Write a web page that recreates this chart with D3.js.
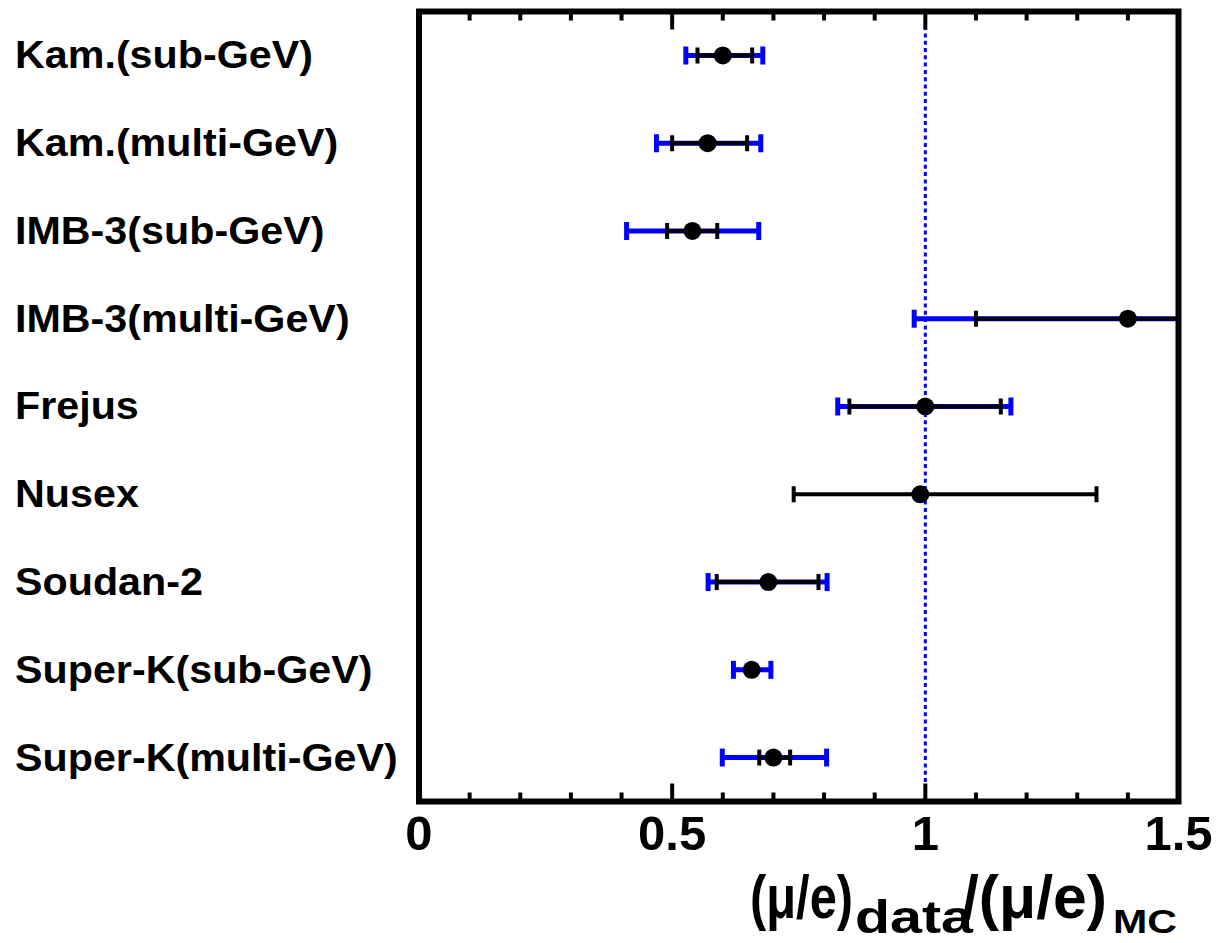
<!DOCTYPE html>
<html>
<head>
<meta charset="utf-8">
<script src="https://cdn.jsdelivr.net/npm/d3@7"></script>
<style>
  body { margin: 0; background: #fff; }
  text { font-family: "Liberation Sans", Arial, Helvetica, sans-serif; font-weight: bold; }
</style>
</head>
<body>
<svg id="chart" width="1216" height="943"></svg>
<script>
// experiments, top to bottom
const labels = ['Kam.(sub-GeV)', 'Kam.(multi-GeV)', 'IMB-3(sub-GeV)', 'IMB-3(multi-GeV)',
  'Frejus', 'Nusex', 'Soudan-2', 'Super-K(sub-GeV)', 'Super-K(multi-GeV)']
// central value of (mu/e)data/(mu/e)MC
const ratio = [0.60, 0.57, 0.54, 1.40, 1.00, 0.99, 0.69, 0.657, 0.70]
// statistical error range (black)
const statLo = [0.55, 0.50, 0.49, 1.10, 0.85, 0.74, 0.588, 0.645, 0.672]
const statHi = [0.658, 0.648, 0.589, 1.81, 1.149, 1.338, 0.789, 0.67, 0.733]
// stat+syst range (blue), null when not shown
const totLo = [0.527, 0.469, 0.41, 0.978, 0.827, null, 0.571, 0.621, 0.599]
const totHi = [0.679, 0.675, 0.671, 1.83, 1.169, null, 0.806, 0.695, 0.805]
const majorTicks = [0, 0.5, 1, 1.5]
const minorTicks = d3.range(1, 15).map(i => i / 10)

const svg = d3.select('#chart')
const pLeft = 419, pRight = 1178.5, pTop = 11.5, pBottom = 801.5
const r = 9

const x = d3.scaleLinear().domain([0, 1.5]).range([pLeft, pRight])
const y = d3.scaleBand().domain(labels).range([pTop, pBottom])
const yc = (i) => y(labels[i]) + y.bandwidth() / 2

const rows = labels.map((l, i) => ({l, i, v: ratio[i], sLo: statLo[i], sHi: statHi[i], tLo: totLo[i], tHi: totHi[i]}))

svg.append('defs').append('clipPath').attr('id', 'clip')
  .append('rect').attr('x', pLeft).attr('y', pTop).attr('width', pRight - pLeft).attr('height', pBottom - pTop)

const plot = svg.append('g').attr('clip-path', 'url(#clip)')

// reference line at 1
plot.append('line')
  .attr('x1', x(1)).attr('x2', x(1)).attr('y1', pTop).attr('y2', pBottom)
  .attr('stroke', '#0000ff').attr('stroke-width', 3).attr('stroke-dasharray', '4,3.3')

// error bars hidden by the marker are not drawn (like ROOT does)
const outside = (c) => Math.abs(x(c.v) - x(ratio[c.i])) > r && c.v <= 1.5

// blue (total) error bars
const tot = rows.filter(d => d.tLo !== null)
plot.selectAll('.tot').data(tot).enter().append('line')
  .attr('x1', d => x(d.tLo)).attr('x2', d => x(Math.min(d.tHi, 1.6)))
  .attr('y1', d => yc(d.i)).attr('y2', d => yc(d.i))
  .attr('stroke', '#0000ff').attr('stroke-width', 5)
const totCaps = tot.flatMap(d => [{i: d.i, v: d.tLo}, {i: d.i, v: d.tHi}]).filter(outside)
plot.selectAll('.totcap').data(totCaps).enter().append('line')
  .attr('x1', d => x(d.v)).attr('x2', d => x(d.v))
  .attr('y1', d => yc(d.i) - 9).attr('y2', d => yc(d.i) + 9)
  .attr('stroke', '#0000ff').attr('stroke-width', 5)

// black (stat) error bars
plot.selectAll('.stat').data(rows).enter().append('line')
  .attr('x1', d => x(d.sLo)).attr('x2', d => x(Math.min(d.sHi, 1.6)))
  .attr('y1', d => yc(d.i)).attr('y2', d => yc(d.i))
  .attr('stroke', '#000').attr('stroke-width', 4)
const statCaps = rows.flatMap(d => [{i: d.i, v: d.sLo}, {i: d.i, v: d.sHi}]).filter(outside)
plot.selectAll('.statcap').data(statCaps).enter().append('line')
  .attr('x1', d => x(d.v)).attr('x2', d => x(d.v))
  .attr('y1', d => yc(d.i) - 8).attr('y2', d => yc(d.i) + 8)
  .attr('stroke', '#000').attr('stroke-width', 4)

// markers
plot.selectAll('circle').data(rows).enter().append('circle')
  .attr('cx', d => x(d.v)).attr('cy', d => yc(d.i)).attr('r', r)
  .attr('fill', '#000')

// ticks top and bottom, pointing inside
const ticks = svg.append('g').attr('stroke', '#000').attr('stroke-width', 4)
const allTicks = majorTicks.map(v => ({v, len: 18})).concat(minorTicks.filter(v => v % 0.5 !== 0).map(v => ({v, len: 9})))
ticks.selectAll('.tb').data(allTicks).enter().append('line')
  .attr('x1', d => x(d.v)).attr('x2', d => x(d.v))
  .attr('y1', pBottom).attr('y2', d => pBottom - d.len)
ticks.selectAll('.tt').data(allTicks).enter().append('line')
  .attr('x1', d => x(d.v)).attr('x2', d => x(d.v))
  .attr('y1', pTop).attr('y2', d => pTop + d.len)

// frame
svg.append('rect')
  .attr('x', pLeft).attr('y', pTop).attr('width', pRight - pLeft).attr('height', pBottom - pTop)
  .attr('fill', 'none').attr('stroke', '#000').attr('stroke-width', 6)

// tick labels
svg.selectAll('.tl').data(majorTicks).enter().append('text')
  .attr('x', d => x(d)).attr('y', 850)
  .attr('text-anchor', 'middle').attr('font-size', 49)
  .text(d => d3.format('')(d))

// row labels
svg.append('g').attr('transform', 'translate(15,0) scale(1.086,1)')
  .selectAll('text').data(labels).enter().append('text')
  .attr('x', 0).attr('y', (d, i) => yc(i) + 13)
  .attr('font-size', 38)
  .text(d => d)

// axis title: (mu/e)_data/(mu/e)_MC
const title = [
  {t: '(\u03bc/e)', x: 750, w: 103, y: 918, s: 62},
  {t: 'data', x: 855, w: 118, y: 933, s: 46},
  {t: '/(\u03bc/e)', x: 962, w: 145, y: 918, s: 62},
  {t: 'MC', x: 1113, w: 64, y: 933, s: 34}
]
svg.selectAll('.title').data(title).enter().append('text')
  .attr('x', d => d.x).attr('y', d => d.y)
  .attr('font-size', d => d.s)
  .attr('textLength', d => d.w).attr('lengthAdjust', 'spacingAndGlyphs')
  .text(d => d.t)
</script>
</body>
</html>
